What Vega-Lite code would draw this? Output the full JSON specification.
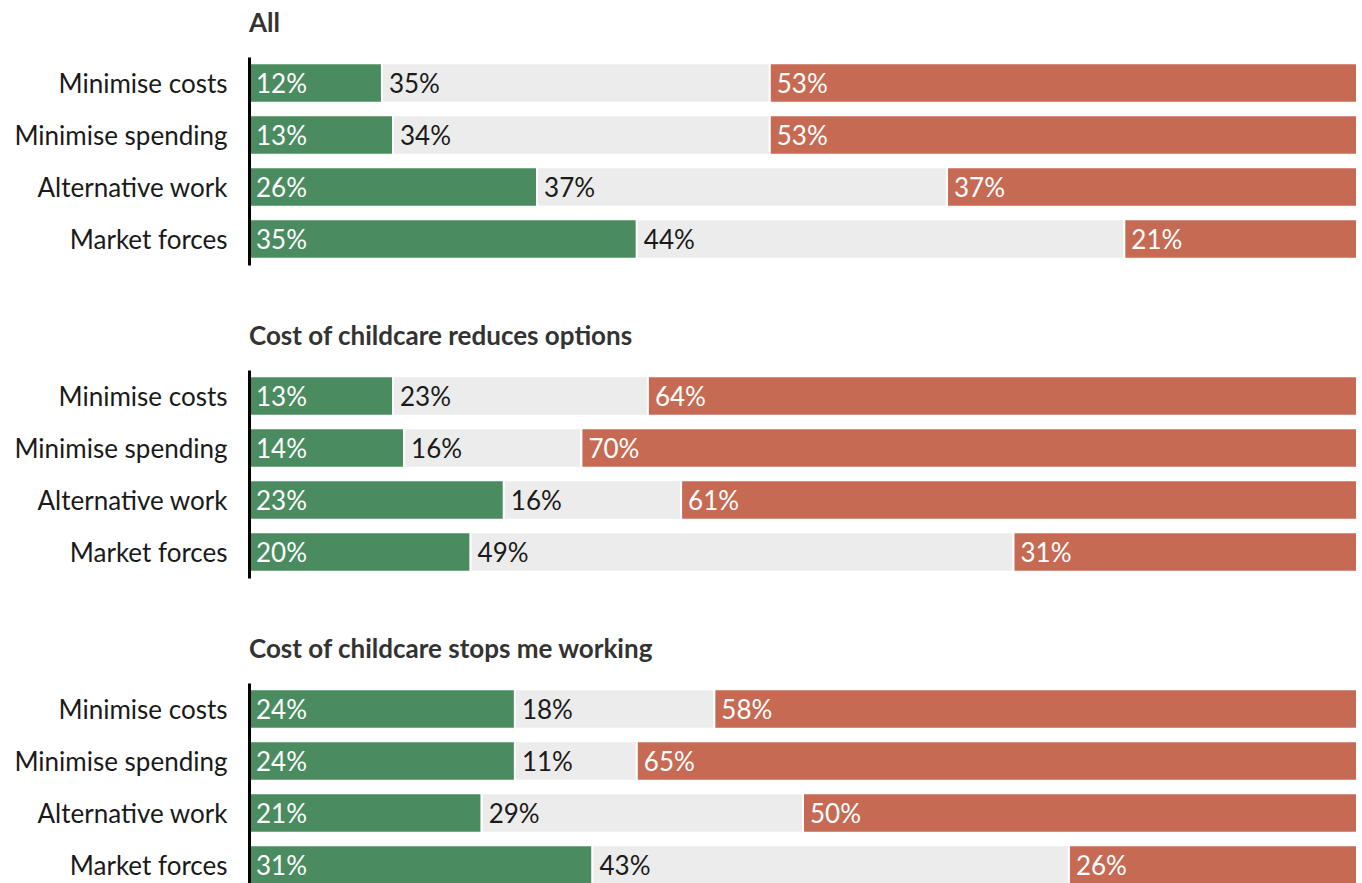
{
  "$schema": "https://vega.github.io/schema/vega-lite/v6.json",
  "padding": {"left": 13, "top": 11, "right": 0, "bottom": 0},
  "background": "white",
  "config": {"view": {"stroke": null}, "font": "Lato", "concat": {"spacing": 59}},
  "data": {"values": [
    {"group": "All", "question": "Minimise costs", "segment": "Support", "order": 1, "value": 0.12},
    {"group": "All", "question": "Minimise costs", "segment": "Neutral", "order": 2, "value": 0.35},
    {"group": "All", "question": "Minimise costs", "segment": "Oppose", "order": 3, "value": 0.53},
    {"group": "All", "question": "Minimise spending", "segment": "Support", "order": 1, "value": 0.13},
    {"group": "All", "question": "Minimise spending", "segment": "Neutral", "order": 2, "value": 0.34},
    {"group": "All", "question": "Minimise spending", "segment": "Oppose", "order": 3, "value": 0.53},
    {"group": "All", "question": "Alternative work", "segment": "Support", "order": 1, "value": 0.26},
    {"group": "All", "question": "Alternative work", "segment": "Neutral", "order": 2, "value": 0.37},
    {"group": "All", "question": "Alternative work", "segment": "Oppose", "order": 3, "value": 0.37},
    {"group": "All", "question": "Market forces", "segment": "Support", "order": 1, "value": 0.35},
    {"group": "All", "question": "Market forces", "segment": "Neutral", "order": 2, "value": 0.44},
    {"group": "All", "question": "Market forces", "segment": "Oppose", "order": 3, "value": 0.21},
    {"group": "Reduces", "question": "Minimise costs", "segment": "Support", "order": 1, "value": 0.13},
    {"group": "Reduces", "question": "Minimise costs", "segment": "Neutral", "order": 2, "value": 0.23},
    {"group": "Reduces", "question": "Minimise costs", "segment": "Oppose", "order": 3, "value": 0.64},
    {"group": "Reduces", "question": "Minimise spending", "segment": "Support", "order": 1, "value": 0.14},
    {"group": "Reduces", "question": "Minimise spending", "segment": "Neutral", "order": 2, "value": 0.16},
    {"group": "Reduces", "question": "Minimise spending", "segment": "Oppose", "order": 3, "value": 0.70},
    {"group": "Reduces", "question": "Alternative work", "segment": "Support", "order": 1, "value": 0.23},
    {"group": "Reduces", "question": "Alternative work", "segment": "Neutral", "order": 2, "value": 0.16},
    {"group": "Reduces", "question": "Alternative work", "segment": "Oppose", "order": 3, "value": 0.61},
    {"group": "Reduces", "question": "Market forces", "segment": "Support", "order": 1, "value": 0.20},
    {"group": "Reduces", "question": "Market forces", "segment": "Neutral", "order": 2, "value": 0.49},
    {"group": "Reduces", "question": "Market forces", "segment": "Oppose", "order": 3, "value": 0.31},
    {"group": "Stops", "question": "Minimise costs", "segment": "Support", "order": 1, "value": 0.24},
    {"group": "Stops", "question": "Minimise costs", "segment": "Neutral", "order": 2, "value": 0.18},
    {"group": "Stops", "question": "Minimise costs", "segment": "Oppose", "order": 3, "value": 0.58},
    {"group": "Stops", "question": "Minimise spending", "segment": "Support", "order": 1, "value": 0.24},
    {"group": "Stops", "question": "Minimise spending", "segment": "Neutral", "order": 2, "value": 0.11},
    {"group": "Stops", "question": "Minimise spending", "segment": "Oppose", "order": 3, "value": 0.65},
    {"group": "Stops", "question": "Alternative work", "segment": "Support", "order": 1, "value": 0.21},
    {"group": "Stops", "question": "Alternative work", "segment": "Neutral", "order": 2, "value": 0.29},
    {"group": "Stops", "question": "Alternative work", "segment": "Oppose", "order": 3, "value": 0.50},
    {"group": "Stops", "question": "Market forces", "segment": "Support", "order": 1, "value": 0.31},
    {"group": "Stops", "question": "Market forces", "segment": "Neutral", "order": 2, "value": 0.43},
    {"group": "Stops", "question": "Market forces", "segment": "Oppose", "order": 3, "value": 0.26}
  ]},
  "vconcat": [
    {
      "title": {"text": "All", "anchor": "start", "frame": "group", "fontSize": 26, "fontWeight": "bold", "color": "#333333", "offset": 20},
      "width": 1108, "height": 208,
      "transform": [
        {"filter": "datum.group === 'All'"},
        {"stack": "value", "groupby": ["question"], "sort": [{"field": "order"}], "as": ["x0", "x1"]}
      ],
      "encoding": {
        "y": {"field": "question", "type": "nominal", "sort": ["Minimise costs", "Minimise spending", "Alternative work", "Market forces"],
          "scale": {"paddingInner": 0.24, "paddingOuter": 0.12},
          "axis": {"title": null, "zindex": 1, "domainColor": "black", "domainWidth": 3, "ticks": false, "labelFontSize": 26, "labelColor": "#1a1a1a", "labelPadding": 22, "labelOffset": 2, "labelLimit": 400}}
      },
      "layer": [
        {"mark": {"type": "bar", "stroke": "white", "strokeWidth": 2},
         "encoding": {
           "x": {"field": "x0", "type": "quantitative", "scale": {"domain": [0, 1]}, "axis": null},
           "x2": {"field": "x1"},
           "color": {"field": "segment", "type": "nominal", "scale": {"domain": ["Support", "Neutral", "Oppose"], "range": ["#4a8c5f", "#ececec", "#c66a53"]}, "legend": null}
         }},
        {"mark": {"type": "text", "align": "left", "dx": 7, "dy": 2, "fontSize": 26},
         "encoding": {
           "x": {"field": "x0", "type": "quantitative"},
           "text": {"field": "value", "type": "quantitative", "format": ".0%"},
           "color": {"condition": {"test": "datum.segment === 'Neutral'", "value": "#1a1a1a"}, "value": "white"}
         }}
      ]
    },
    {
      "title": {"text": "Cost of childcare reduces options", "anchor": "start", "frame": "group", "fontSize": 26, "fontWeight": "bold", "color": "#333333", "offset": 20},
      "width": 1108, "height": 208,
      "transform": [
        {"filter": "datum.group === 'Reduces'"},
        {"stack": "value", "groupby": ["question"], "sort": [{"field": "order"}], "as": ["x0", "x1"]}
      ],
      "encoding": {
        "y": {"field": "question", "type": "nominal", "sort": ["Minimise costs", "Minimise spending", "Alternative work", "Market forces"],
          "scale": {"paddingInner": 0.24, "paddingOuter": 0.12},
          "axis": {"title": null, "zindex": 1, "domainColor": "black", "domainWidth": 3, "ticks": false, "labelFontSize": 26, "labelColor": "#1a1a1a", "labelPadding": 22, "labelOffset": 2, "labelLimit": 400}}
      },
      "layer": [
        {"mark": {"type": "bar", "stroke": "white", "strokeWidth": 2},
         "encoding": {
           "x": {"field": "x0", "type": "quantitative", "scale": {"domain": [0, 1]}, "axis": null},
           "x2": {"field": "x1"},
           "color": {"field": "segment", "type": "nominal", "scale": {"domain": ["Support", "Neutral", "Oppose"], "range": ["#4a8c5f", "#ececec", "#c66a53"]}, "legend": null}
         }},
        {"mark": {"type": "text", "align": "left", "dx": 7, "dy": 2, "fontSize": 26},
         "encoding": {
           "x": {"field": "x0", "type": "quantitative"},
           "text": {"field": "value", "type": "quantitative", "format": ".0%"},
           "color": {"condition": {"test": "datum.segment === 'Neutral'", "value": "#1a1a1a"}, "value": "white"}
         }}
      ]
    },
    {
      "title": {"text": "Cost of childcare stops me working", "anchor": "start", "frame": "group", "fontSize": 26, "fontWeight": "bold", "color": "#333333", "offset": 20},
      "width": 1108, "height": 208,
      "transform": [
        {"filter": "datum.group === 'Stops'"},
        {"stack": "value", "groupby": ["question"], "sort": [{"field": "order"}], "as": ["x0", "x1"]}
      ],
      "encoding": {
        "y": {"field": "question", "type": "nominal", "sort": ["Minimise costs", "Minimise spending", "Alternative work", "Market forces"],
          "scale": {"paddingInner": 0.24, "paddingOuter": 0.12},
          "axis": {"title": null, "zindex": 1, "domainColor": "black", "domainWidth": 3, "ticks": false, "labelFontSize": 26, "labelColor": "#1a1a1a", "labelPadding": 22, "labelOffset": 2, "labelLimit": 400}}
      },
      "layer": [
        {"mark": {"type": "bar", "stroke": "white", "strokeWidth": 2},
         "encoding": {
           "x": {"field": "x0", "type": "quantitative", "scale": {"domain": [0, 1]}, "axis": null},
           "x2": {"field": "x1"},
           "color": {"field": "segment", "type": "nominal", "scale": {"domain": ["Support", "Neutral", "Oppose"], "range": ["#4a8c5f", "#ececec", "#c66a53"]}, "legend": null}
         }},
        {"mark": {"type": "text", "align": "left", "dx": 7, "dy": 2, "fontSize": 26},
         "encoding": {
           "x": {"field": "x0", "type": "quantitative"},
           "text": {"field": "value", "type": "quantitative", "format": ".0%"},
           "color": {"condition": {"test": "datum.segment === 'Neutral'", "value": "#1a1a1a"}, "value": "white"}
         }}
      ]
    }
  ]
}
